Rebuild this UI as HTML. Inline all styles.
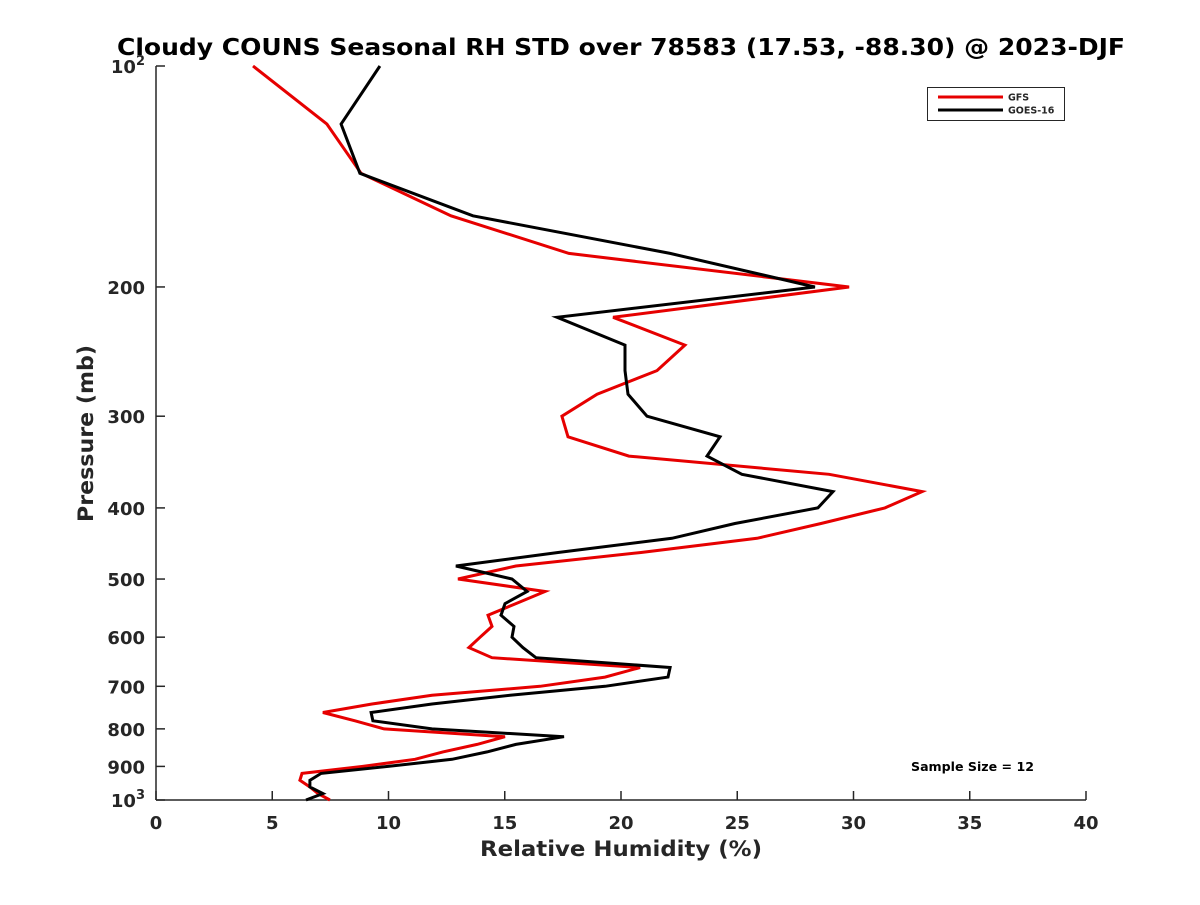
<!DOCTYPE html>
<html><head><meta charset="utf-8"><style>
html,body{margin:0;padding:0;background:#fff;}
svg text{font-family:"DejaVu Sans","Liberation Sans",sans-serif;font-weight:bold;fill:#262626;}
</style></head><body>
<svg id="chart" width="1200" height="900" viewBox="0 0 1200 900" xmlns="http://www.w3.org/2000/svg">
<rect width="1200" height="900" fill="#fff"/>
<text x="117" y="55" font-size="23" textLength="1008" lengthAdjust="spacingAndGlyphs" fill="#000" style="fill:#000">Cloudy COUNS Seasonal RH STD over 78583 (17.53, -88.30) @ 2023-DJF</text>
<g id="axes"></g>
<g id="series"></g>
<text x="480" y="856" font-size="21" textLength="282" lengthAdjust="spacingAndGlyphs">Relative Humidity (%)</text>
<text x="0" y="0" font-size="21" textLength="177" lengthAdjust="spacingAndGlyphs" transform="translate(93,522) rotate(-90)">Pressure (mb)</text>
<g>
<rect x="927.5" y="87.5" width="137" height="33" fill="#fff" stroke="#262626" stroke-width="1"/>
<line x1="938" y1="97" x2="1003" y2="97" stroke="#e60000" stroke-width="3"/>
<text x="1008" y="100.5" font-size="9.5">GFS</text>
<line x1="938" y1="110" x2="1003" y2="110" stroke="#000" stroke-width="3"/>
<text x="1008" y="113.5" font-size="9.5">GOES-16</text>
</g>
<text x="911" y="771" font-size="12" textLength="123" lengthAdjust="spacingAndGlyphs" fill="#000" style="fill:#000">Sample Size = 12</text>
</svg>
<script>
const pressureLevels = [100,120,140,160,180,200,220,240,260,280,300,320,340,360,380,400,420,440,460,480,500,520,540,560,580,600,620,640,660,680,700,720,740,760,780,800,820,840,860,880,900,920,940,960,980,1000];
const gfsValues = [4.17,7.35,8.82,12.69,17.76,29.81,19.66,22.75,21.55,18.97,17.46,17.72,20.34,28.95,32.95,31.35,28.6,25.85,20.86,15.48,12.99,16.73,15.48,14.28,14.45,13.94,13.46,14.45,20.82,19.31,16.52,11.87,9.29,7.18,8.56,9.81,15.01,13.81,12.34,11.14,8.9,6.28,6.19,6.62,6.97,7.48];
const goesValues = [9.63,7.96,8.77,13.63,22.11,28.34,17.25,20.17,20.17,20.30,21.12,24.26,23.70,25.20,29.12,28.47,24.90,22.19,17.29,12.90,15.31,15.96,15.01,14.84,15.40,15.31,15.78,16.34,22.11,22.02,19.31,15.23,11.87,9.25,9.33,11.87,17.55,15.48,14.24,12.73,9.98,7.10,6.62,6.62,7.18,6.45];
const xTicks = [0,5,10,15,20,25,30,35,40];
const yTicks = [100,200,300,400,500,600,700,800,900,1000];
const yTickLabels = ["10^2","200","300","400","500","600","700","800","900","10^3"];

const L=156,R=1086,T=66,B=800;
const xScale=v=>L+(v-0)/(40-0)*(R-L);
const yScale=p=>T+Math.log10(p/100)*(B-T);
const NS="http://www.w3.org/2000/svg";
function mk(tag,attrs,parent){const e=document.createElementNS(NS,tag);for(const k in attrs)e.setAttribute(k,attrs[k]);parent.appendChild(e);return e;}
const axes=document.getElementById('axes');
const xa=mk('line',{x1:L,y1:B,x2:R,y2:B,stroke:'#262626','stroke-width':1.5},axes);


const ya=mk('line',{x1:L,y1:T,x2:L,y2:B,stroke:'#262626','stroke-width':1.5},axes);


xTicks.forEach(v=>{
  const x=xScale(v);
  mk('line',{x1:x,y1:B,x2:x,y2:B-9,stroke:'#262626','stroke-width':1.5},axes);
  const t=mk('text',{x:x,y:B+29,'font-size':18,'text-anchor':'middle'},axes);
  t.textContent=String(v);
  
  
});
yTicks.forEach((p,i)=>{
  const y=yScale(p);
  mk('line',{x1:L,y1:y,x2:L+9,y2:y,stroke:'#262626','stroke-width':1.5},axes);
  const lab=yTickLabels[i];
  const t=mk('text',{x:L-11,y:y+7,'font-size':18,'text-anchor':'end'},axes);
  
  
  if(lab.indexOf('^')>=0){
    const parts=lab.split('^');
    const a=document.createElementNS(NS,'tspan');a.textContent=parts[0];t.appendChild(a);
    const b=document.createElementNS(NS,'tspan');b.textContent=parts[1];b.setAttribute('dy','-8');b.setAttribute('font-size','13');t.appendChild(b);
  } else t.textContent=lab;
});
const series=document.getElementById('series');
function drawLine(vals,color,name){
  const pts=vals.map((v,i)=>xScale(v).toFixed(1)+','+yScale(pressureLevels[i]).toFixed(1)).join(' ');
  const pl=mk('polyline',{points:pts,fill:'none',stroke:color,'stroke-width':3,'stroke-linejoin':'miter'},series);
  
  
}
drawLine(gfsValues,'#e60000','gfs-line');
drawLine(goesValues,'#000000','goes16-line');
</script>
</body></html>
